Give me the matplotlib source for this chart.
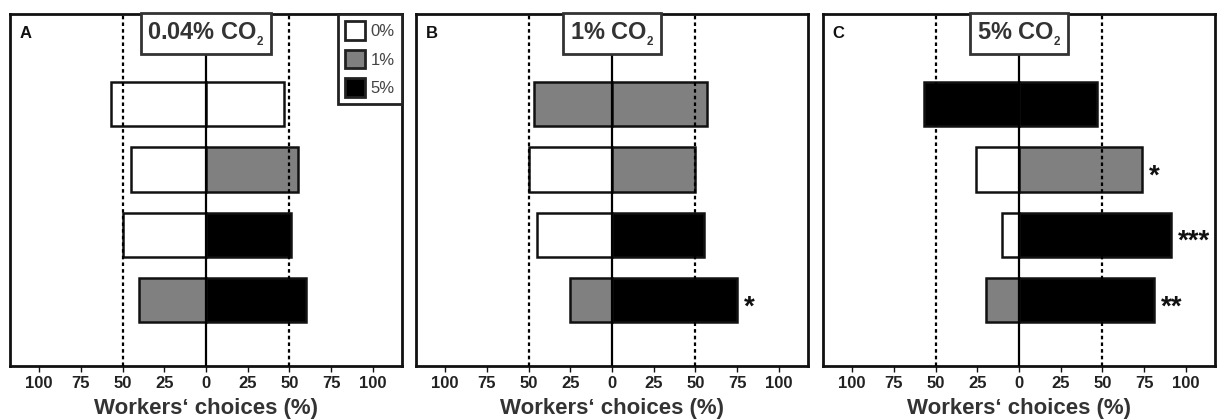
import matplotlib
matplotlib.use("Agg")
import matplotlib.pyplot as plt
from matplotlib.patches import Patch
import matplotlib.transforms as mtransforms

plt.rcParams['font.family'] = ['Liberation Sans', 'DejaVu Sans']
plt.rcParams['mathtext.fontset'] = 'custom'
plt.rcParams['mathtext.bf'] = 'Liberation Sans:bold'
plt.rcParams['mathtext.rm'] = 'Liberation Sans:bold'
plt.rcParams['mathtext.default'] = 'bf'

# ---- data ----
panel_letters = ["A", "B", "C"]
panel_titles = [r"0.04% CO$_{{}_{2}}$", r"1% CO$_{{}_{2}}$", r"5% CO$_{{}_{2}}$"]
legend_labels = ["0%", "1%", "5%"]

# treatment codes (CO2 %) per row, top to bottom
A_left_trt = [0, 0, 0, 1]
A_right_trt = [0, 1, 5, 5]
A_left_val = [57, 45, 50, 40]
A_right_val = [47, 55, 51, 60]
A_stars = ["", "", "", ""]

B_left_trt = [1, 0, 0, 1]
B_right_trt = [1, 1, 5, 5]
B_left_val = [47, 50, 45, 25]
B_right_val = [57, 50, 55, 75]
B_stars = ["", "", "", "*"]

C_left_trt = [5, 0, 0, 1]
C_right_trt = [5, 1, 5, 5]
C_left_val = [57, 26, 10, 20]
C_right_val = [47, 74, 91, 81]
C_stars = ["", "*", "***", "**"]

tick_values = [-100, -75, -50, -25, 0, 25, 50, 75, 100]
tick_labels = ["100", "75", "50", "25", "0", "25", "50", "75", "100"]

fill = {0: "white", 1: "#808080", 5: "#000000"}

panels = [
    (A_left_trt, A_right_trt, A_left_val, A_right_val, A_stars),
    (B_left_trt, B_right_trt, B_left_val, B_right_val, B_stars),
    (C_left_trt, C_right_trt, C_left_val, C_right_val, C_stars),
]

W, H = 1217, 419
fig = plt.figure(figsize=(W / 100, H / 100), dpi=100)
lefts_px = [10, 416, 823]
ax_w = 392
bottom_px, top_px = 366, 14

rows = [4, 3, 2, 1]
for i, (lt, rt, lv, rv, st) in enumerate(panels):
    ax = fig.add_axes([lefts_px[i] / W, (H - bottom_px) / H, ax_w / W, (bottom_px - top_px) / H])
    ax.set_xlim(-117.5, 117.5)
    ax.set_ylim(-0.01, 5.38)
    ax.barh(rows, [-v for v in lv], left=0, height=0.68,
            color=[fill[t] for t in lt], edgecolor="#111111", linewidth=1.8, zorder=2)
    ax.barh(rows, rv, left=0, height=0.68,
            color=[fill[t] for t in rt], edgecolor="#111111", linewidth=1.8, zorder=2)
    for x in (-50, 50):
        ax.axvline(x, color="black", lw=1.6, linestyle=(0, (1.6, 1.4)), zorder=4)
    ax.axvline(0, color="black", lw=1.6, zorder=4)
    for y, v, s in zip(rows, rv, st):
        if s:
            ax.text(v + 4, y - 0.22, s, fontsize=20, fontweight="bold", color="#111",
                    ha="left", va="baseline", zorder=5)
    for sp in ax.spines.values():
        sp.set_linewidth(2.0)
        sp.set_color("#111")
    ax.set_yticks([])
    ax.set_xticks(tick_values)
    ax.set_xticklabels(tick_labels, fontsize=12, fontweight="bold", color="#222")
    ax.tick_params(axis="x", direction="out", length=4, width=1, pad=3, color="#111")
    ax.set_xlabel("Workers\u2018 choices (%)", fontsize=16, fontweight="bold", color="#333", labelpad=5)
    ax.text(0.025, 0.946, panel_letters[i], transform=ax.transAxes, fontsize=12,
            fontweight="bold", color="#111", ha="left", va="center")
    trans = mtransforms.blended_transform_factory(ax.transData, ax.transAxes)
    ax.text(0, 0.944, panel_titles[i], transform=trans, fontsize=17, fontweight="bold",
            color="#333", ha="center", va="center", zorder=6,
            bbox=dict(boxstyle="square,pad=0.28", facecolor="white", edgecolor="#333", linewidth=2))
    if i == 0:
        handles = [Patch(facecolor=fill[t], edgecolor="#222", linewidth=2) for t in (0, 1, 5)]
        leg = ax.legend(handles, legend_labels, loc="upper right", bbox_to_anchor=(1, 1),
                        borderaxespad=0, fancybox=False, framealpha=1, edgecolor="#222",
                        fontsize=12, handlelength=1.2, handleheight=1.3, handletextpad=0.3,
                        labelspacing=0.62, borderpad=0.45, labelcolor="#444")
        leg.get_frame().set_linewidth(2)
        leg.set_zorder(7)

fig.savefig("out.png", dpi=100)
